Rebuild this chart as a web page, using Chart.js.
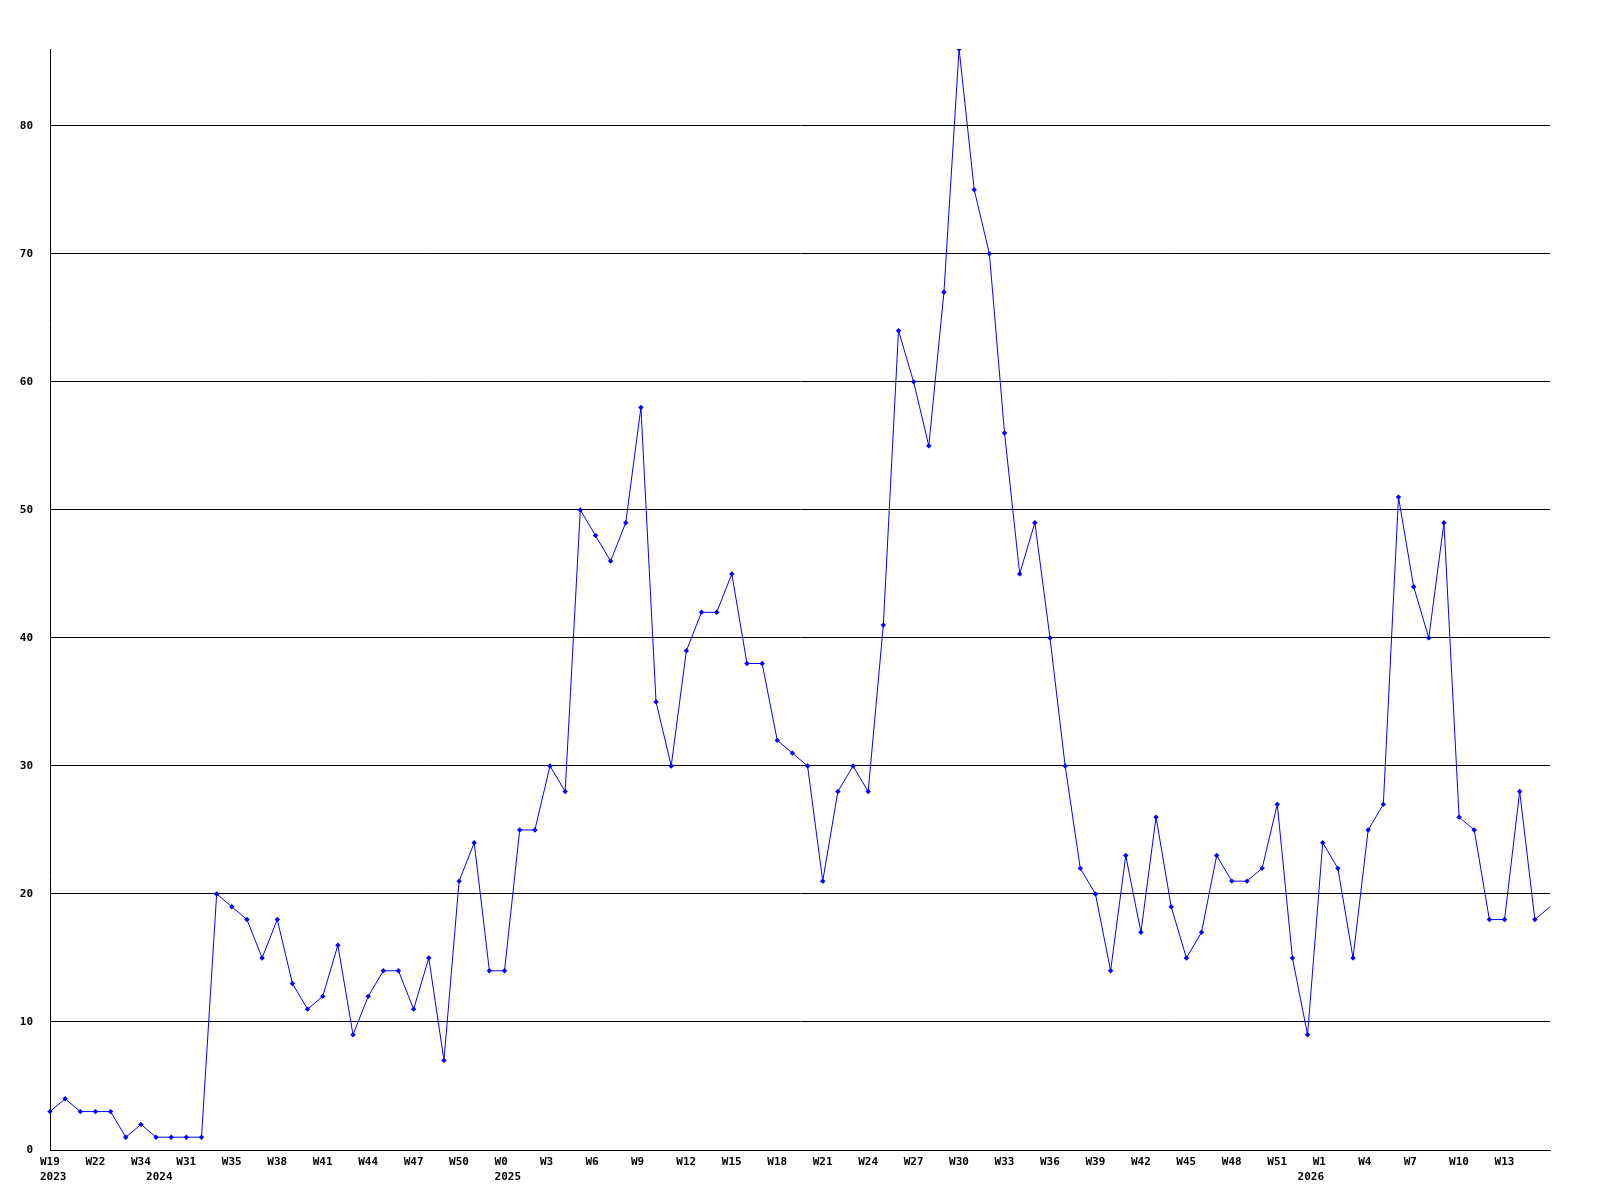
<!DOCTYPE html>
<html>
<head>
<meta charset="utf-8">
<script src="https://cdn.jsdelivr.net/npm/chart.js@4/dist/chart.umd.min.js"></script>
<style>
  html, body { margin: 0; padding: 0; background: #fff; }
  #wrap { width: 1600px; height: 1200px; }
</style>
</head>
<body>
<div id="wrap"><canvas id="chart"></canvas></div>
<script>
// weekly counts, one per point
const values = [
  3, 4, 3, 3, 3, 1, 2, 1, 1, 1,
  1, 20, 19, 18, 15, 18, 13, 11, 12, 16,
  9, 12, 14, 14, 11, 15, 7, 21, 24, 14,
  14, 25, 25, 30, 28, 50, 48, 46, 49, 58,
  35, 30, 39, 42, 42, 45, 38, 38, 32, 31,
  30, 21, 28, 30, 28, 41, 64, 60, 55, 67,
  86, 75, 70, 56, 45, 49, 40, 30, 22, 20,
  14, 23, 17, 26, 19, 15, 17, 23, 21, 21,
  22, 27, 15, 9, 24, 22, 15, 25, 27, 51,
  44, 40, 49, 26, 25, 18, 18, 28, 18, 19
];

// week labels shown every 3rd point
const weekTicks = [
  'W19', 'W22', 'W34', 'W31', 'W35', 'W38', 'W41', 'W44', 'W47', 'W50',
  'W0', 'W3', 'W6', 'W9', 'W12', 'W15', 'W18', 'W21', 'W24', 'W27',
  'W30', 'W33', 'W36', 'W39', 'W42', 'W45', 'W48', 'W51', 'W1', 'W4',
  'W7', 'W10', 'W13'
];

// year labels (point index -> year)
const yearIndex = [0, 7, 30, 83];
const yearLabels = ['2023', '2024', '2025', '2026'];

const labels = values.map((v, i) => (i % 3 === 0 && weekTicks[i / 3]) ? weekTicks[i / 3] : '');

const tickFont = { family: 'DejaVu Sans Mono', size: 11, weight: 'bold', lineHeight: '15px' };

const ctx = document.getElementById('chart').getContext('2d');
new Chart(ctx, {
  type: 'line',
  data: {
    labels: labels,
    datasets: [{
      data: values,
      borderColor: '#0000ff',
      backgroundColor: '#0000ff',
      borderWidth: 1,
      tension: 0,
      pointStyle: 'rectRot',
      pointRadius: c => c.dataIndex === values.length - 1 ? 0 : 2.7,
      pointBorderWidth: 0,
      pointBackgroundColor: '#0000ff'
    }]
  },
  options: {
    responsive: true,
    maintainAspectRatio: false,
    animation: false,
    devicePixelRatio: 1,
    layout: { padding: { top: 49, right: 50, left: 0, bottom: 0 } },
    plugins: {
      legend: { display: false },
      tooltip: { enabled: false }
    },
    scales: {
      x: {
        offset: false,
        grid: { display: false, drawTicks: false },
        border: { display: true, color: '#000', width: 1 },
        afterFit: s => { s.height = 50; },
        ticks: {
          autoSkip: false,
          maxRotation: 0,
          minRotation: 0,
          align: 'start',
          labelOffset: -10,
          padding: 5,
          color: '#000',
          font: tickFont,
          callback: function (val, i) {
            const w = labels[i];
            const k = yearIndex.indexOf(i);
            if (k >= 0) return [w, yearLabels[k]];
            return w;
          }
        }
      },
      y: {
        min: 0,
        max: Math.max(...values),
        grid: { color: '#000', lineWidth: 1, drawTicks: false },
        border: { display: true, color: '#000', width: 1 },
        afterFit: s => { s.width = 50; },
        ticks: {
          stepSize: 10,
          includeBounds: false,
          padding: 17,
          color: '#000',
          font: { family: 'DejaVu Sans Mono', size: 11, weight: 'bold' }
        }
      }
    }
  }
});
</script>
</body>
</html>
